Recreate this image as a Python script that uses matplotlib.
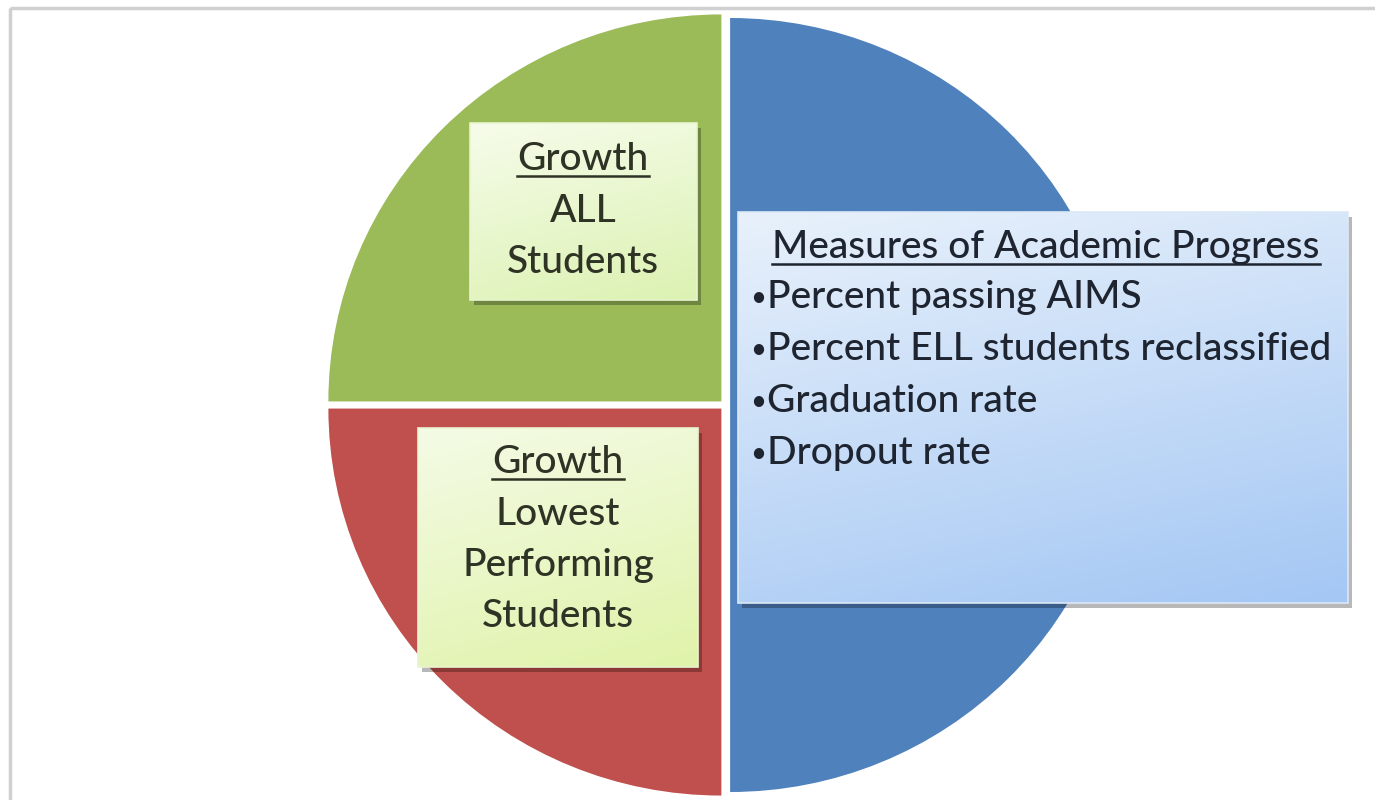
import numpy as np
import matplotlib.pyplot as plt
from matplotlib.patches import Rectangle
from matplotlib.colors import to_rgb

plt.rcParams['font.family'] = ['Lato', 'DejaVu Sans']

# pie data: right half blue, top-left green, bottom-left red
slice_names = ['Measures of Academic Progress', 'Growth ALL Students',
               'Growth Lowest Performing Students']
slice_values = [50, 25, 25]
slice_colors = ['#4F81BD', '#9BBB59', '#C0504D']

box1_head = 'Growth'
box1_lines = ['ALL', 'Students']
box2_head = 'Growth'
box2_lines = ['Lowest', 'Performing', 'Students']
blue_title = 'Measures of Academic Progress'
blue_items = ['Percent passing AIMS', 'Percent ELL students reclassified',
              'Graduation rate', 'Dropout rate']

W, H = 1375, 800
fig = plt.figure(figsize=(W / 100, H / 100), dpi=100)

# pie lives in its own axes (picture is slightly wider than tall)
cx, cy, rx, ry = 725, 405, 393, 387
m = 1.1
pax = fig.add_axes([(cx - m * rx) / W, (H - cy - m * ry) / H,
                    2 * m * rx / W, 2 * m * ry / H])
pax.pie(slice_values, colors=slice_colors, startangle=-90, counterclock=True,
        explode=[0.013, 0.013, 0.013], wedgeprops=dict(linewidth=0))
pax.set_xlim(-m, m)
pax.set_ylim(-m, m)
pax.set_aspect('auto')
pax.axis('off')

ax = fig.add_axes([0, 0, 1, 1])
ax.patch.set_alpha(0)


def gradient_box(x0, y0, x1, y1, c_top, c_bot, edge):
    # drop shadow first
    ax.add_patch(Rectangle((x0 + 4, y0 + 5), x1 - x0, y1 - y0,
                           facecolor='black', alpha=0.28, lw=0, zorder=3))
    a = np.array(to_rgb(c_top))
    b = np.array(to_rgb(c_bot))
    n = 60
    yy, xx = np.mgrid[0:n, 0:n] / (n - 1)
    t = (0.75 * yy + 0.25 * xx)[..., None]
    img = a * (1 - t) + b * t
    ax.imshow(img, extent=(x0, x1, y1, y0), interpolation='bilinear',
              zorder=4, aspect='auto')
    ax.add_patch(Rectangle((x0, y0), x1 - x0, y1 - y0, facecolor='none',
                           edgecolor=edge, lw=1.2, zorder=5))


gradient_box(470, 123, 697, 300, '#F6FCEA', '#DCF2B2', '#E8F4CF')
gradient_box(418, 428, 698, 667, '#F4FBE6', '#E0F3AA', '#E8F4CF')
gradient_box(738, 212, 1348, 603, '#E8F1FB', '#A4C7F4', '#DCE8F6')

fs = 28
fw = 'medium'
green_txt = '#2F3325'
blue_txt = '#1E2430'

heads = []
heads.append(ax.text(583, 170, box1_head, ha='center', va='baseline',
                     fontsize=fs, fontweight=fw, color=green_txt, zorder=6))
for i, s in enumerate(box1_lines):
    ax.text(583, 222 + 51 * i, s, ha='center', va='baseline',
            fontsize=fs, fontweight=fw, color=green_txt, zorder=6)

heads.append(ax.text(558, 473, box2_head, ha='center', va='baseline',
                     fontsize=fs, fontweight=fw, color=green_txt, zorder=6))
for i, s in enumerate(box2_lines):
    ax.text(558, 525 + 51 * i, s, ha='center', va='baseline',
            fontsize=fs, fontweight=fw, color=green_txt, zorder=6)

heads.append(ax.text(1046, 258, blue_title, ha='center', va='baseline',
                     fontsize=fs, fontweight=fw, color=blue_txt, zorder=6))
for i, s in enumerate(blue_items):
    y = 308 + 52 * i
    ax.text(758, y - 2, '\u2022', ha='center', va='baseline',
            fontsize=20, color=blue_txt, zorder=6)
    ax.text(767, y, s, ha='left', va='baseline',
            fontsize=fs, fontweight=fw, color=blue_txt, zorder=6)

# outer light gray frame
ax.add_patch(Rectangle((10, 8), 1400, 820, facecolor='none',
                       edgecolor='#D0D0D0', lw=2.5, zorder=7))

ax.set_xlim(0, W)
ax.set_ylim(H, 0)
ax.axis('off')

# underline the headings
fig.canvas.draw()
inv = ax.transData.inverted()
for t in heads:
    bb = t.get_window_extent()
    (xa, _), (xb, _) = inv.transform([(bb.x0, bb.y0), (bb.x1, bb.y1)])
    yb = t.get_position()[1] + 6
    ax.plot([xa, xb], [yb, yb], color=t.get_color(), lw=1.8, zorder=6)

fig.savefig('out.png', dpi=100)
